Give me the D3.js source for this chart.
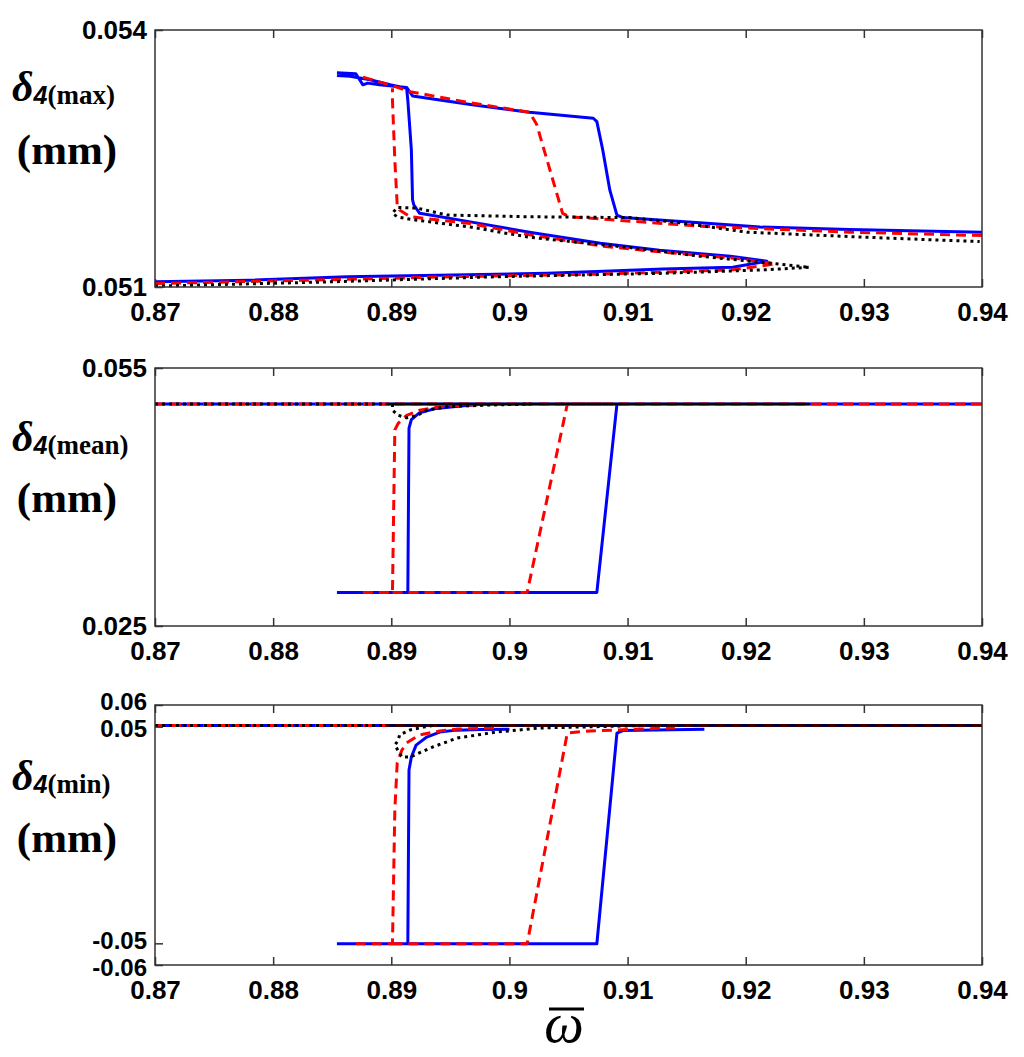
<!DOCTYPE html>
<html><head><meta charset="utf-8">
<script src="https://cdn.jsdelivr.net/npm/d3@7"></script>
<style>body{margin:0;background:#fff}</style>
</head><body>
<svg id="chart" width="1024" height="1057"></svg>
<script>
// ---------- data ----------
const xTicks = [0.87, 0.88, 0.89, 0.9, 0.91, 0.92, 0.93, 0.94];
const maxTicks = [0.051, 0.054];
const meanTicks = [0.025, 0.055];
const minTicks = [-0.06, -0.05, 0.05, 0.06];
const maxTickLabels = ["0.051", "0.054"];
const meanTickLabels = ["0.025", "0.055"];
const minTickLabels = ["-0.06", "-0.05", "0.05", "0.06"];

// top panel: delta4(max)  (NaN = break)
const maxBlueX = [0.87,0.878,0.8863,0.8952,0.9032,0.9074,0.913,0.9189,0.9218,0.9187,0.9127,0.9077,0.9017,0.8967,0.8924,0.8919,0.8918,0.8917,0.8914,0.8913,0.8899,0.8882,0.8865,0.8854,NaN,
  0.8854,0.887,0.8876,0.8880,0.8890,0.8913,0.8918,0.8967,0.9017,0.9071,0.9074,0.9079,0.9085,0.9091,0.9096,0.9161,0.9212,0.9288,0.94];
const maxBlueY = [0.05106,0.05108,0.05112,0.05114,0.05116,0.05118,0.05121,0.05123,0.0513,0.05136,0.05143,0.05151,0.05164,0.05176,0.05186,0.05196,0.05202,0.0526,0.05318,0.05332,0.05336,0.05342,0.05346,0.05347,NaN,
  0.05350,0.05349,0.05336,0.05338,0.05336,0.05333,0.05323,0.05313,0.05304,0.05297,0.05293,0.0526,0.05213,0.05184,0.05181,0.05175,0.0517,0.05167,0.05164];
const maxRedX = [0.87,0.8863,0.8952,0.9074,0.9189,0.9225,0.9195,0.9127,0.9077,0.9017,0.8967,0.8916,0.8907,0.8905,0.8903,0.8901,0.8901,NaN,
  0.8876,0.8901,0.8916,0.8967,0.9017,0.9023,0.9045,0.9051,0.9161,0.9288,0.94];
const maxRedY = [0.05104,0.05109,0.05112,0.05115,0.0512,0.05127,0.05133,0.05141,0.05148,0.05161,0.05174,0.05182,0.0519,0.05196,0.05248,0.05318,0.05332,NaN,
  0.05345,0.05335,0.05328,0.05315,0.05304,0.0529,0.05186,0.05182,0.05171,0.05164,0.0516];
const maxBlackX = [0.87,0.8848,0.8989,0.913,0.9215,0.9254,0.9212,0.9161,0.9102,0.9017,0.8967,0.8916,0.8905,0.8901,0.8905,0.8922,0.8947,0.9017,0.9102,0.9144,0.9201,0.9303,0.9398];
const maxBlackY = [0.05101,0.05106,0.05112,0.05116,0.0512,0.05123,0.05129,0.05136,0.05146,0.05158,0.0517,0.05179,0.05182,0.05186,0.05193,0.05192,0.05184,0.05182,0.05181,0.05175,0.05164,0.05158,0.05153];

// middle panel: delta4(mean)
const meanBlueX = [0.87,0.94,NaN, 0.8854,0.8914,0.8915,0.8917,0.8924,0.8938,0.8961,0.898,NaN, 0.8914,0.9074,0.9091,0.9140];
const meanBlueY = [0.0508,0.0508,NaN, 0.0289,0.0289,0.0480,0.0490,0.0498,0.0503,0.0506,0.0508,NaN, 0.0289,0.0289,0.0508,0.0508];
const meanRedX = [0.87,0.94,NaN, 0.8876,0.8901,0.8903,0.8906,0.8913,0.8924,0.8941,0.8964,0.899,NaN, 0.8901,0.9015,0.9049,0.908];
const meanRedY = [0.0508,0.0508,NaN, 0.0289,0.0289,0.0478,0.0486,0.0495,0.0501,0.0505,0.0507,0.0508,NaN, 0.0289,0.0289,0.0508,0.0508];
const meanBlackX = [0.87,0.8895,NaN, 0.8901,0.8901,0.8906,0.8913,0.8922,0.893,0.8947,0.8984,0.9018];
const meanBlackY = [0.0508,0.0508,NaN, 0.0508,0.0501,0.0495,0.0492,0.0495,0.0501,0.0505,0.0507,0.0508];
const meanBlackTopX = [0.8895, 0.9254];
const meanBlackTopY = [0.0508, 0.0508];

// bottom panel: delta4(min)
const minBlueX = [0.87,0.94,NaN, 0.8854,0.8914,0.8915,0.8917,0.8921,0.893,0.8941,0.8955,0.8975,0.9,NaN, 0.8914,0.9074,0.9091,0.9096,0.9165];
const minBlueY = [0.0505,0.0505,NaN, -0.0502,-0.0502,0.030,0.036,0.0415,0.0452,0.0475,0.0484,0.0487,0.0488,NaN, -0.0502,-0.0502,0.047,0.0482,0.0488];
const minRedX = [0.87,0.94,NaN, 0.8870,0.8901,0.8903,0.8905,0.8909,0.8913,0.8924,0.8941,0.8956,0.899,NaN, 0.8901,0.9015,0.9049,0.9068,0.9111,0.914];
const minRedY = [0.0505,0.0505,NaN, -0.0502,-0.0502,0.0115,0.0332,0.0392,0.0425,0.0462,0.048,0.0489,0.0495,NaN, -0.0502,-0.0502,0.0471,0.048,0.0489,0.0495];
const minBlackX = [0.87,0.8895,NaN, 0.8935,0.8927,0.8916,0.8907,0.8906,0.8903,0.8909,0.8916,0.8935,0.8956,0.8989,0.9026,0.9111];
const minBlackY = [0.0505,0.0505,NaN, 0.0505,0.0498,0.0485,0.0462,0.0438,0.0415,0.036,0.036,0.0406,0.0448,0.0475,0.0494,0.0505];
const minBlackTopX = [0.8895, 0.94];
const minBlackTopY = [0.0505, 0.0505];

// ---------- layout ----------
const svg = d3.select("#chart");
const L = 155, R = 982;
const x = d3.scaleLinear().domain([0.87, 0.94]).range([L, R]);
const panels = [
  {top:30, bot:287, dom:[0.051,0.054], ticks:maxTicks, labels:maxTickLabels, sub:"(max)", labY:101, mmY:164, tickFont:26,
   series:[[maxBlueX,maxBlueY,"blue"],[maxRedX,maxRedY,"red"],[maxBlackX,maxBlackY,"black"]]},
  {top:368, bot:626, dom:[0.025,0.055], ticks:meanTicks, labels:meanTickLabels, sub:"(mean)", labY:451, mmY:512, tickFont:26,
   series:[[meanBlueX,meanBlueY,"blue"],[meanRedX,meanRedY,"red"],[meanBlackX,meanBlackY,"black"],[meanBlackTopX,meanBlackTopY,"blacksolid"]]},
  {top:705, bot:965, dom:[-0.06,0.06], ticks:minTicks, labels:minTickLabels, sub:"(min)", labY:790, mmY:852, tickFont:24,
   series:[[minBlueX,minBlueY,"blue"],[minRedX,minRedY,"red"],[minBlackX,minBlackY,"black"],[minBlackTopX,minBlackTopY,"blacksolid"]]}
];
const styles = {
  blue:{stroke:"#0000ff", w:3, dash:null},
  red:{stroke:"#ff0000", w:3, dash:"10,6"},
  black:{stroke:"#000", w:3, dash:"3,4"},
  blacksolid:{stroke:"#000", w:2.5, dash:null}
};

panels.forEach((p, i) => {
  const y = d3.scaleLinear().domain(p.dom).range([p.bot, p.top]);
  const g = svg.append("g");
  const cid = "clip" + i;
  svg.append("defs").append("clipPath").attr("id", cid)
    .append("rect").attr("x", L).attr("y", p.top - 2).attr("width", R - L).attr("height", p.bot - p.top + 4);
  const lg = g.append("g").attr("clip-path", `url(#${cid})`);
  const line = d3.line().defined(d => !isNaN(d[0]) && !isNaN(d[1])).x(d => x(d[0])).y(d => y(d[1]));
  p.series.forEach(([xs, ys, k]) => {
    const st = styles[k];
    lg.append("path").datum(xs.map((v, j) => [v, ys[j]]))
      .attr("d", line).attr("fill", "none").attr("stroke", st.stroke)
      .attr("stroke-width", st.w).attr("stroke-dasharray", st.dash)
      .attr("stroke-linejoin", "round");
  });
  // box
  g.append("rect").attr("x", L).attr("y", p.top).attr("width", R - L).attr("height", p.bot - p.top)
    .attr("fill", "none").attr("stroke", "#333").attr("stroke-width", 1.5);
  // x ticks bottom & top (inside)
  const xb = d3.axisBottom(x).tickValues(xTicks).tickSize(-8).tickFormat(d3.format("")).tickPadding(12);
  const xa = g.append("g").attr("transform", `translate(0,${p.bot})`).call(xb);
  xa.select(".domain").remove();
  xa.selectAll(".tick line").attr("stroke", "#333").attr("stroke-width", 1.5);
  xa.selectAll(".tick text").attr("font-family", "Liberation Sans, Arial, sans-serif")
    .attr("font-weight", "bold").attr("font-size", 26).attr("fill", "#000").attr("dy", "0.75em")
    .attr("y", 14);
  const xt = d3.axisTop(x).tickValues(xTicks).tickSize(-8).tickFormat("");
  const xta = g.append("g").attr("transform", `translate(0,${p.top})`).call(xt);
  xta.select(".domain").remove();
  xta.selectAll(".tick line").attr("stroke", "#333").attr("stroke-width", 1.5);
  // y ticks
  const ya = g.append("g").attr("transform", `translate(${L},0)`)
    .call(d3.axisLeft(y).tickValues(p.ticks).tickSize(-8).tickPadding(10).tickFormat((d, j) => p.labels[j]));
  ya.select(".domain").remove();
  ya.selectAll(".tick line").attr("stroke", "#333").attr("stroke-width", 1.5);
  ya.selectAll(".tick text").attr("font-family", "Liberation Sans, Arial, sans-serif")
    .attr("font-weight", "bold").attr("font-size", p.tickFont).attr("fill", "#000").attr("x", -8);
  if (i === 2) {
    // separate the closely spaced pairs slightly
    ya.selectAll(".tick text").attr("dy", (d) => (Math.abs(d) === 0.06 ? (d > 0 ? "0.2em" : "0.42em") : (d > 0 ? "0.42em" : "0.2em")));
  }
  // y label
  const t = svg.append("text").attr("x", 12).attr("y", p.labY).attr("fill", "#000");
  t.append("tspan").text("δ").attr("font-family", "Liberation Serif, Times New Roman, serif")
    .attr("font-style", "italic").attr("font-weight", "bold").attr("font-size", 42);
  t.append("tspan").text("4").attr("font-family", "Liberation Sans, Arial, sans-serif")
    .attr("font-style", "italic").attr("font-weight", "bold").attr("font-size", 25).attr("dy", 3);
  t.append("tspan").text(p.sub).attr("font-family", "Liberation Serif, Times New Roman, serif")
    .attr("font-weight", "bold").attr("font-size", 27);
  svg.append("text").attr("x", 67).attr("y", p.mmY).attr("text-anchor", "middle")
    .attr("font-family", "Liberation Serif, Times New Roman, serif").attr("font-weight", "bold")
    .attr("font-size", 43).attr("fill", "#000").text("(mm)");
});

// x-axis label: omega with overline
svg.append("text").attr("x", 564).attr("y", 1042).attr("text-anchor", "middle")
  .attr("font-family", "Liberation Serif, Times New Roman, serif").attr("font-style", "italic")
  .attr("font-size", 56).attr("fill", "#000").text("ω");
svg.append("line").attr("x1", 549).attr("x2", 584).attr("y1", 1009).attr("y2", 1009)
  .attr("stroke", "#000").attr("stroke-width", 3);
</script>
</body></html>
